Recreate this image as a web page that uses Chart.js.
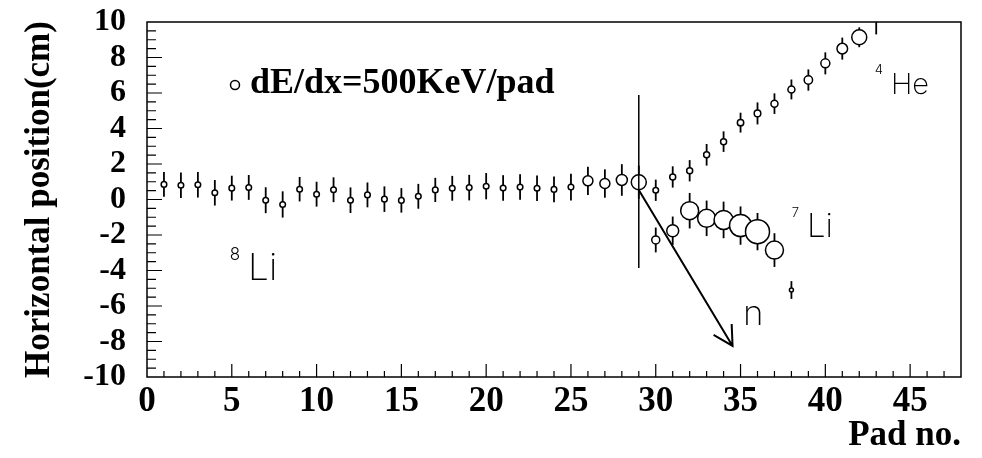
<!DOCTYPE html>
<html>
<head>
<meta charset="utf-8">
<script src="https://cdn.jsdelivr.net/npm/chart.js@4.4.0/dist/chart.umd.min.js"></script>
<style>
  html, body { margin: 0; padding: 0; background: #fff; }
  #plot { display: block; }
</style>
</head>
<body>
<canvas id="plot" width="982" height="458"></canvas>
<script>
// 8Li track before the break-up (pad 29)
const li8Pads = [1, 2, 3, 4, 5, 6, 7, 8, 9, 10, 11, 12, 13, 14, 15, 16, 17, 18, 19, 20, 21, 22, 23, 24, 25, 26, 27, 28, 29];
const li8Pos = [0.85, 0.80, 0.83, 0.38, 0.64, 0.68, -0.04, -0.28, 0.58, 0.30, 0.55, -0.04, 0.26, 0.02, -0.05, 0.18, 0.54, 0.63, 0.67, 0.75, 0.65, 0.70, 0.63, 0.57, 0.70, 1.05, 0.90, 1.10, 0.97];
const li8Err = [0.70, 0.72, 0.72, 0.72, 0.70, 0.70, 0.73, 0.74, 0.69, 0.70, 0.70, 0.72, 0.70, 0.72, 0.69, 0.70, 0.68, 0.70, 0.72, 0.74, 0.72, 0.72, 0.72, 0.72, 0.75, 0.79, 0.80, 0.89, 0.94];

// 4He fragment
const he4Pads = [30, 31, 32, 33, 34, 35, 36, 37, 38, 39, 40, 41, 42, 43];
const he4Pos = [0.52, 1.27, 1.62, 2.52, 3.26, 4.33, 4.85, 5.40, 6.20, 6.73, 7.67, 8.50, 9.14, 10.6];
const he4Err = [0.60, 0.60, 0.60, 0.61, 0.58, 0.56, 0.62, 0.58, 0.56, 0.60, 0.62, 0.62, 0.56, 1.30];

// 7Li fragment
const li7Pads = [30, 31, 32, 33, 34, 35, 36, 37, 38];
const li7Pos = [-2.28, -1.76, -0.63, -1.06, -1.15, -1.47, -1.81, -2.85, -5.10];
const li7Err = [0.70, 0.80, 1.00, 1.00, 1.03, 1.08, 1.05, 0.95, 0.50];

// marker radius ~ energy deposit per pad
const li8Size = [2.8, 2.8, 2.8, 2.8, 2.8, 2.8, 2.8, 2.8, 2.8, 2.8, 2.8, 2.8, 2.8, 2.8, 2.8, 2.8, 2.8, 2.8, 2.8, 2.8, 2.8, 2.8, 2.8, 2.8, 2.8, 5, 5, 5.5, 7.5];
const he4Size = [2.8, 3, 3, 3, 3, 3.2, 3.3, 3.5, 3.5, 4.2, 4.5, 5.3, 7.5, 7.5];
const li7Size = [4, 6, 9, 9, 9.5, 11, 12, 9, 2];

const xTicks = [0, 5, 10, 15, 20, 25, 30, 35, 40, 45];
const yTicks = [-10, -8, -6, -4, -2, 0, 2, 4, 6, 8, 10];

const SERIF = "'Liberation Serif', 'Times New Roman', serif";
const SANS = "Inter, 'DejaVu Sans', sans-serif";

const toPoints = (xs, ys) => xs.map((v, i) => ({ x: v, y: ys[i] }));
const errors = [li8Err, he4Err, li7Err];

const track = (label, xs, ys, sizes) => ({
    label: label,
    data: toPoints(xs, ys),
    pointRadius: sizes,
    pointBackgroundColor: "#fff",
    pointBorderColor: "#000",
    pointBorderWidth: 1.5,
    showLine: false,
});

function isotope(ctx, x, y, mass, sym, xv, yv, size, supSize) {
    const px = x.getPixelForValue(xv);
    const py = y.getPixelForValue(yv);
    ctx.font = "200 " + size + "px " + SANS;
    ctx.textAlign = "left";
    ctx.fillText(sym, px, py);
    ctx.font = "300 " + supSize + "px " + SANS;
    ctx.textAlign = "right";
    ctx.fillText(mass, px - 8, py - 20);
}

const overlay = {
    id: "overlay",
    beforeDatasetsDraw(chart) {
        const { ctx, chartArea: a, scales: { x, y } } = chart;
        ctx.save();
        ctx.beginPath();
        ctx.rect(a.left, a.top, a.right - a.left, a.bottom - a.top);
        ctx.clip();
        ctx.strokeStyle = "#000";
        ctx.lineWidth = 1.8;
        chart.data.datasets.forEach((ds, k) => {
            ds.data.forEach((p, i) => {
                const px = x.getPixelForValue(p.x);
                ctx.beginPath();
                ctx.moveTo(px, y.getPixelForValue(p.y + errors[k][i]));
                ctx.lineTo(px, y.getPixelForValue(p.y - errors[k][i]));
                ctx.stroke();
            });
        });
        ctx.restore();
    },
    afterDatasetsDraw(chart) {
        const { ctx, chartArea: a, scales: { x, y } } = chart;
        ctx.save();
        ctx.strokeStyle = "#000";
        ctx.fillStyle = "#000";

        // frame + inward tick marks
        ctx.lineWidth = 1.5;
        ctx.strokeRect(a.left, a.top, a.right - a.left, a.bottom - a.top);
        ctx.lineWidth = 1.2;
        ctx.beginPath();
        for (let v = 1; v < 48; v++) {
            const px = x.getPixelForValue(v);
            ctx.moveTo(px, a.bottom);
            ctx.lineTo(px, a.bottom - (v % 5 === 0 ? 13 : 6));
        }
        for (let v = -9.5; v < 10; v += 0.5) {
            const py = y.getPixelForValue(v);
            ctx.moveTo(a.left, py);
            ctx.lineTo(a.left + (v % 2 === 0 ? 15 : 9), py);
        }
        ctx.stroke();

        // break-up point at pad 29
        ctx.lineWidth = 1.5;
        ctx.beginPath();
        ctx.moveTo(x.getPixelForValue(29), y.getPixelForValue(5.89));
        ctx.lineTo(x.getPixelForValue(29), y.getPixelForValue(-3.86));
        ctx.stroke();

        // neutron arrow
        const x0 = x.getPixelForValue(29), y0 = y.getPixelForValue(0.54);
        const x1 = x.getPixelForValue(34.53), y1 = y.getPixelForValue(-8.25);
        const ang = Math.atan2(y1 - y0, x1 - x0);
        ctx.lineWidth = 2;
        ctx.beginPath();
        ctx.moveTo(x0, y0);
        ctx.lineTo(x1, y1);
        ctx.moveTo(x1 - 22 * Math.cos(ang - 0.5), y1 - 22 * Math.sin(ang - 0.5));
        ctx.lineTo(x1, y1);
        ctx.lineTo(x1 - 22 * Math.cos(ang + 0.5), y1 - 22 * Math.sin(ang + 0.5));
        ctx.stroke();

        // particle labels
        ctx.textBaseline = "alphabetic";
        isotope(ctx, x, y, "8", "Li", 5.96, -4.54, 37, 17);
        isotope(ctx, x, y, "7", "Li", 38.92, -2.11, 33, 13);
        isotope(ctx, x, y, "4", "He", 43.87, 5.94, 29, 13);
        ctx.font = "200 35px " + SANS;
        ctx.textAlign = "left";
        ctx.fillText("n", x.getPixelForValue(35.15), y.getPixelForValue(-7.07));

        // legend
        ctx.lineWidth = 1.5;
        ctx.beginPath();
        ctx.arc(235, 85, 4.5, 0, Math.PI * 2);
        ctx.stroke();
        ctx.font = "bold 36px " + SERIF;
        ctx.fillText("dE/dx=500KeV/pad", 250, 93);
        ctx.restore();
    },
};

new Chart(document.getElementById("plot"), {
    type: "scatter",
    data: {
        datasets: [
            track("8Li", li8Pads, li8Pos, li8Size),
            track("4He", he4Pads, he4Pos, he4Size),
            track("7Li", li7Pads, li7Pos, li7Size),
        ],
    },
    options: {
        responsive: false,
        animation: false,
        events: [],
        layout: { padding: { top: 22, right: 21, left: 0, bottom: 0 } },
        plugins: { legend: { display: false }, tooltip: { enabled: false } },
        scales: {
            x: {
                type: "linear",
                min: 0,
                max: 48,
                afterBuildTicks: (s) => { s.ticks = xTicks.map((v) => ({ value: v })); },
                afterFit: (s) => { s.height = 81; s.paddingLeft = 0; s.paddingRight = 0; },
                grid: { display: false, drawTicks: false },
                border: { display: false },
                ticks: {
                    color: "#000",
                    padding: 4,
                    maxRotation: 0,
                    autoSkip: false,
                    font: { family: SERIF, weight: "bold", size: 35 },
                },
                title: {
                    display: true,
                    text: "Pad no.",
                    align: "end",
                    color: "#000",
                    padding: { top: 0, bottom: 5 },
                    font: { family: SERIF, weight: "bold", size: 35, lineHeight: 1 },
                },
            },
            y: {
                min: -10,
                max: 10,
                afterBuildTicks: (s) => { s.ticks = yTicks.map((v) => ({ value: v })); },
                afterFit: (s) => { s.width = 147; s.paddingTop = 0; s.paddingBottom = 0; },
                grid: { display: false, drawTicks: false },
                border: { display: false },
                ticks: {
                    color: "#000",
                    padding: 21,
                    autoSkip: false,
                    font: { family: SERIF, weight: "bold", size: 32 },
                },
                title: {
                    display: true,
                    text: "Horizontal position(cm)",
                    color: "#000",
                    padding: { top: 22, bottom: 0 },
                    font: { family: SERIF, weight: "bold", size: 35, lineHeight: 1 },
                },
            },
        },
    },
    plugins: [overlay],
});
</script>
</body>
</html>
